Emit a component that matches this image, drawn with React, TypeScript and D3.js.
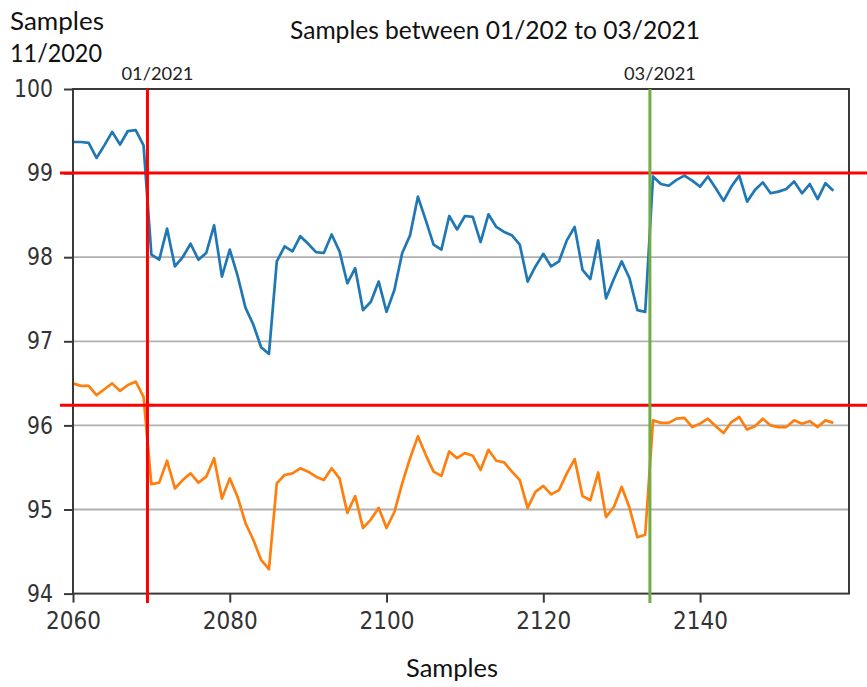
import { useEffect, useRef } from 'react';
import * as d3 from 'd3';

// first sample number, one value per sample after it
const startSample = 2060;

const seriesBlue = [
  99.37, 99.37, 99.36, 99.18, 99.33, 99.49, 99.34, 99.5, 99.51, 99.33,
  98.03, 97.97, 98.34, 97.89, 98.0, 98.16, 97.97, 98.05, 98.38, 97.77,
  98.09, 97.78, 97.4, 97.2, 96.93, 96.85, 97.95, 98.13, 98.07, 98.25,
  98.16, 98.06, 98.05, 98.27, 98.07, 97.69, 97.87, 97.37, 97.47, 97.71,
  97.35, 97.61, 98.05, 98.26, 98.72, 98.44, 98.15, 98.09, 98.49, 98.33,
  98.49, 98.48, 98.18, 98.51, 98.36, 98.3, 98.26, 98.15, 97.71, 97.89,
  98.04, 97.89, 97.95, 98.2, 98.36, 97.85, 97.74, 98.2, 97.51, 97.74,
  97.95, 97.75, 97.37, 97.35, 98.96, 98.87, 98.85, 98.92, 98.97, 98.91,
  98.84, 98.96, 98.82, 98.67, 98.84, 98.97, 98.66, 98.8, 98.89, 98.76,
  98.78, 98.81, 98.9, 98.76, 98.87, 98.69, 98.88, 98.79,
];

const seriesOrange = [
  96.5, 96.47, 96.47, 96.36, 96.43, 96.5, 96.41, 96.48, 96.52, 96.34,
  95.3, 95.32, 95.58, 95.25, 95.35, 95.43, 95.32, 95.39, 95.61, 95.13,
  95.37, 95.15, 94.84, 94.64, 94.4, 94.29, 95.31, 95.41, 95.43, 95.49,
  95.45, 95.39, 95.35, 95.49, 95.37, 94.96, 95.16, 94.78, 94.88, 95.02,
  94.78, 94.97, 95.31, 95.61, 95.87, 95.65, 95.45, 95.4, 95.69, 95.61,
  95.67, 95.64, 95.47, 95.71, 95.58, 95.56, 95.45, 95.35, 95.02, 95.21,
  95.28, 95.18, 95.23, 95.43, 95.6, 95.16, 95.11, 95.44, 94.91, 95.03,
  95.27, 95.02, 94.67, 94.7, 96.06, 96.03, 96.03, 96.08, 96.09, 95.98,
  96.02, 96.08, 95.99, 95.91, 96.04, 96.1, 95.95, 95.99, 96.08, 96.0,
  95.98, 95.98, 96.06, 96.02, 96.05, 95.98, 96.06, 96.03,
];

const xTicks = [2060, 2080, 2100, 2120, 2140];
const yTicks = [94, 95, 96, 97, 98, 99, 100];

// reference markers drawn over the plot
const markerStart = { sample: 2069.5, label: '01/2021' };
const markerEnd = { sample: 2133.6, label: '03/2021' };
const thresholds = [99, 96.24];

export default function App() {
  const svgRef = useRef(null);

  useEffect(() => {
    document.body.style.margin = '0';
    if (!svgRef.current) return;

    const svg = d3.select(svgRef.current);
    svg.selectAll('*').remove();

    const left = 73, right = 849, top = 89, bottom = 593.6;

    const x = d3.scaleLinear().domain([2060, 2159]).range([left, right]);
    const y = d3.scaleLinear().domain([94, 100]).range([bottom, top]);

    const tickFont = '"DejaVu Sans", sans-serif';
    const textFont = 'Lato, "Open Sans", sans-serif';

    // grid lines
    svg.append('g')
      .selectAll('line')
      .data(yTicks.filter(d => d > 94 && d < 100))
      .enter()
      .append('line')
      .attr('x1', left)
      .attr('x2', right)
      .attr('y1', d => y(d))
      .attr('y2', d => y(d))
      .attr('stroke', '#b0b0b0')
      .attr('stroke-width', 1.8);

    // series
    const line = d3.line<number>()
      .x((d, i) => x(startSample + i))
      .y(d => y(d));

    [[seriesBlue, '#1f77b4'], [seriesOrange, '#ff7f0e']].forEach(([vals, color]) => {
      svg.append('path')
        .datum(vals as number[])
        .attr('d', line)
        .attr('fill', 'none')
        .attr('stroke', color as string)
        .attr('stroke-width', 2.7)
        .attr('stroke-linejoin', 'round');
    });

    // frame
    svg.append('rect')
      .attr('x', left)
      .attr('y', top)
      .attr('width', right - left)
      .attr('height', bottom - top)
      .attr('fill', 'none')
      .attr('stroke', '#3a3a3a')
      .attr('stroke-width', 2);

    // y axis
    const yAxis = svg.append('g')
      .attr('transform', `translate(${left},0)`)
      .call(d3.axisLeft(y).tickValues(yTicks).tickSize(9).tickPadding(6).tickFormat(d3.format('d')));
    yAxis.select('.domain').remove();
    yAxis.selectAll('.tick line').attr('stroke', '#3a3a3a').attr('stroke-width', 2);
    yAxis.selectAll('.tick text')
      .attr('font-family', tickFont)
      .attr('font-size', 24)
      .attr('fill', '#333')
      .attr('x', -20)
      .attr('textLength', d => String(d).length * 13)
      .attr('lengthAdjust', 'spacingAndGlyphs');

    // x axis
    const xAxis = svg.append('g')
      .attr('transform', `translate(0,${bottom})`)
      .call(d3.axisBottom(x).tickValues(xTicks).tickSize(9).tickPadding(9).tickFormat(d3.format('d')));
    xAxis.select('.domain').remove();
    xAxis.selectAll('.tick line').attr('stroke', '#3a3a3a').attr('stroke-width', 2);
    xAxis.selectAll('.tick text')
      .attr('font-family', tickFont)
      .attr('font-size', 24)
      .attr('fill', '#333')
      .attr('textLength', 55)
      .attr('lengthAdjust', 'spacingAndGlyphs');

    // threshold lines
    svg.append('g')
      .selectAll('line')
      .data(thresholds)
      .enter()
      .append('line')
      .attr('x1', 60)
      .attr('x2', 867)
      .attr('y1', d => y(d))
      .attr('y2', d => y(d))
      .attr('stroke', '#ff0000')
      .attr('stroke-width', 3);

    // date markers
    [[markerStart, '#ff0000'], [markerEnd, '#70ad47']].forEach(([m, color]) => {
      const mk = m as { sample: number; label: string };
      svg.append('line')
        .attr('x1', x(mk.sample))
        .attr('x2', x(mk.sample))
        .attr('y1', top)
        .attr('y2', 603)
        .attr('stroke', color as string)
        .attr('stroke-width', 3);
      svg.append('text')
        .attr('x', x(mk.sample) + 10)
        .attr('y', 80)
        .attr('text-anchor', 'middle')
        .attr('font-family', textFont)
        .attr('font-size', 17)
        .attr('fill', '#222')
        .attr('textLength', 72)
        .attr('lengthAdjust', 'spacingAndGlyphs')
        .text(mk.label);
    });

    // titles
    const addText = (t: string, tx: number, ty: number, anchor: string, w: number) => {
      svg.append('text')
        .attr('x', tx)
        .attr('y', ty)
        .attr('text-anchor', anchor)
        .attr('font-family', textFont)
        .attr('font-size', 25)
        .attr('fill', '#111')
        .attr('textLength', w)
        .attr('lengthAdjust', 'spacingAndGlyphs')
        .text(t);
    };
    addText('Samples', 10, 30, 'start', 94);
    addText('11/2020', 10, 62, 'start', 92);
    addText('Samples between 01/202 to 03/2021', 495, 39, 'middle', 410);
    addText('Samples', 452, 677, 'middle', 92);
  }, []);

  return <svg ref={svgRef} width={867} height={687} style={{ display: 'block' }} />;
}
